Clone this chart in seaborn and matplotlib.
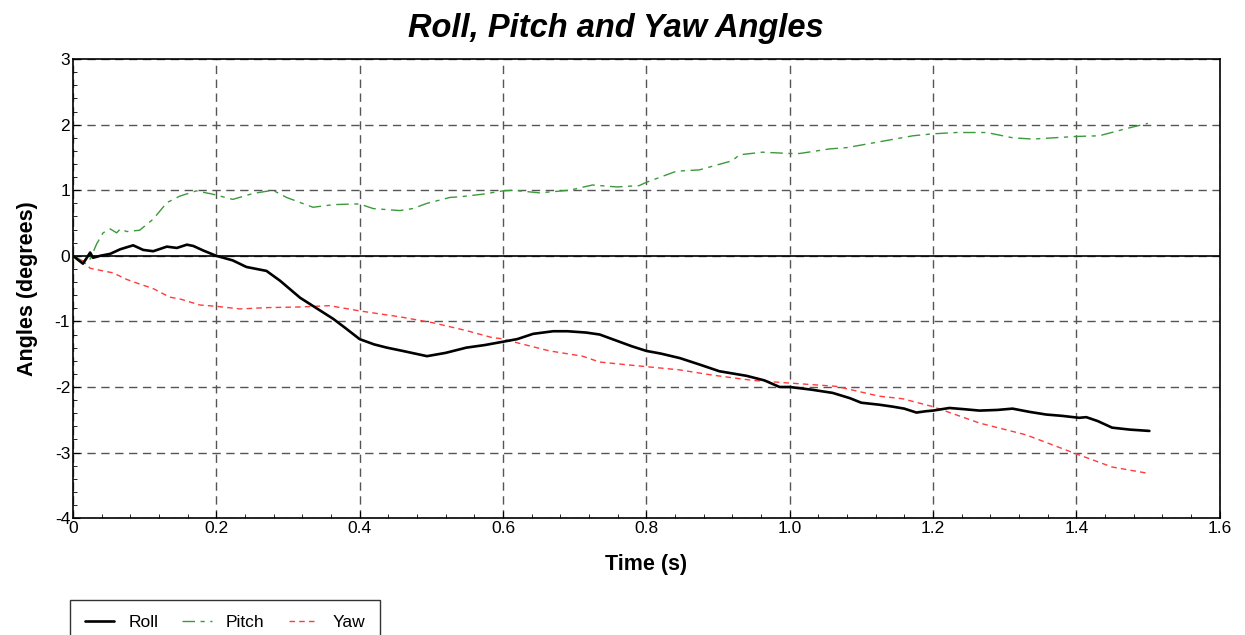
import matplotlib
matplotlib.use("Agg")
import matplotlib.pyplot as plt
from matplotlib.ticker import MultipleLocator
import seaborn as sns
import pandas as pd

# Roll angle (degrees) over time (s)
roll_t = [0, 0.014, 0.024, 0.028, 0.038, 0.052, 0.066, 0.084, 0.098, 0.112, 0.131,
          0.145, 0.159, 0.168, 0.182, 0.2, 0.223, 0.242, 0.27, 0.289, 0.317, 0.34,
          0.363, 0.38, 0.4, 0.42, 0.438, 0.46, 0.494, 0.52, 0.549, 0.575, 0.6, 0.62,
          0.642, 0.67, 0.69, 0.716, 0.735, 0.76, 0.78, 0.8, 0.82, 0.847, 0.875,
          0.902, 0.94, 0.965, 0.986, 1.0, 1.03, 1.06, 1.084, 1.1, 1.125, 1.144,
          1.16, 1.177, 1.19, 1.2, 1.223, 1.245, 1.265, 1.29, 1.311, 1.335, 1.358,
          1.38, 1.404, 1.414, 1.43, 1.45, 1.475, 1.502]
roll = [0, -0.12, 0.05, -0.03, 0.0, 0.03, 0.1, 0.16, 0.09, 0.07, 0.14,
        0.12, 0.17, 0.15, 0.08, 0.0, -0.07, -0.17, -0.23, -0.38, -0.64, -0.8,
        -0.96, -1.1, -1.27, -1.35, -1.4, -1.45, -1.53, -1.48, -1.4, -1.36, -1.31, -1.27,
        -1.19, -1.15, -1.15, -1.17, -1.2, -1.3, -1.38, -1.45, -1.49, -1.56, -1.66,
        -1.76, -1.83, -1.9, -2.0, -2.0, -2.04, -2.09, -2.17, -2.24, -2.27, -2.3,
        -2.33, -2.39, -2.37, -2.36, -2.32, -2.34, -2.36, -2.35, -2.33, -2.38, -2.42,
        -2.44, -2.47, -2.46, -2.52, -2.62, -2.65, -2.67]

# Pitch angle (degrees) over time (s)
pitch_t = [0, 0.014, 0.024, 0.033, 0.042, 0.052, 0.061, 0.066, 0.075, 0.093, 0.112,
           0.131, 0.149, 0.172, 0.195, 0.223, 0.251, 0.279, 0.298, 0.335, 0.363,
           0.391, 0.4, 0.419, 0.456, 0.474, 0.494, 0.526, 0.54, 0.572, 0.6, 0.614,
           0.651, 0.693, 0.725, 0.759, 0.79, 0.8, 0.842, 0.874, 0.92, 0.93, 0.962,
           1.0, 1.014, 1.056, 1.08, 1.126, 1.172, 1.2, 1.233, 1.275, 1.311, 1.339,
           1.4, 1.432, 1.47, 1.5]
pitch = [0, -0.08, -0.05, 0.18, 0.35, 0.41, 0.35, 0.41, 0.37, 0.39, 0.56,
         0.81, 0.91, 0.99, 0.94, 0.86, 0.95, 1.0, 0.89, 0.74, 0.78,
         0.79, 0.79, 0.72, 0.69, 0.72, 0.8, 0.89, 0.9, 0.94, 0.99, 1.0,
         0.96, 1.0, 1.08, 1.05, 1.07, 1.12, 1.29, 1.31, 1.45, 1.54, 1.58,
         1.56, 1.56, 1.63, 1.65, 1.74, 1.83, 1.86, 1.88, 1.88, 1.8, 1.78,
         1.82, 1.83, 1.94, 2.02]

# Yaw angle (degrees) over time (s)
yaw_t = [0, 0.014, 0.024, 0.042, 0.056, 0.075, 0.093, 0.112, 0.135, 0.15, 0.177,
         0.2, 0.233, 0.27, 0.317, 0.358, 0.4, 0.456, 0.502, 0.549, 0.586, 0.596,
         0.665, 0.711, 0.735, 0.8, 0.847, 0.893, 0.949, 1.0, 1.065, 1.125, 1.158,
         1.2, 1.265, 1.33, 1.4, 1.45, 1.502]
yaw = [0, -0.08, -0.19, -0.23, -0.26, -0.36, -0.43, -0.5, -0.63, -0.66, -0.75,
       -0.77, -0.81, -0.79, -0.78, -0.76, -0.84, -0.93, -1.02, -1.14, -1.25, -1.26,
       -1.45, -1.53, -1.62, -1.69, -1.74, -1.82, -1.9, -1.94, -1.99, -2.14, -2.18,
       -2.3, -2.55, -2.73, -3.02, -3.22, -3.32]

sns.set_style("white")
plt.rcParams["font.family"] = ["Liberation Sans", "DejaVu Sans"]
plt.rcParams["axes.unicode_minus"] = False
plt.rcParams["text.color"] = "black"
plt.rcParams["axes.labelcolor"] = "black"
plt.rcParams["xtick.color"] = "black"
plt.rcParams["ytick.color"] = "black"

fig = plt.figure(figsize=(12.45, 6.35), dpi=100)
ax = fig.add_axes([0.0586, 0.184, 0.921, 0.723])

roll_df = pd.DataFrame({"t": roll_t, "v": roll})
pitch_df = pd.DataFrame({"t": pitch_t, "v": pitch})
yaw_df = pd.DataFrame({"t": yaw_t, "v": yaw})

ax.axhline(0, color="black", lw=1.2, zorder=1)

sns.lineplot(data=roll_df, x="t", y="v", ax=ax, color="black", lw=1.9,
             sort=False, estimator=None, label="Roll", zorder=4)
sns.lineplot(data=pitch_df, x="t", y="v", ax=ax, color="#3a9a3a", lw=1.0,
             sort=False, estimator=None, label="Pitch", zorder=3,
             dashes=False, linestyle=(0, (9, 4, 3, 4)))
sns.lineplot(data=yaw_df, x="t", y="v", ax=ax, color="#ff3b3b", lw=1.0,
             sort=False, estimator=None, label="Yaw", zorder=3,
             dashes=False, linestyle=(0, (4, 3)))

ax.set_xlim(0, 1.6)
ax.set_ylim(-4, 3)
ax.xaxis.set_major_locator(MultipleLocator(0.2))
ax.xaxis.set_minor_locator(MultipleLocator(0.04))
ax.yaxis.set_major_locator(MultipleLocator(1))
ax.yaxis.set_minor_locator(MultipleLocator(0.2))
ax.set_xticks(ax.get_xticks())
ax.set_xticklabels(["0" if abs(v) < 1e-9 else f"{v:.1f}" for v in ax.get_xticks()])
ax.set_xlim(0, 1.6)
ax.tick_params(which="both", direction="in", bottom=True, left=True,
               top=False, right=False, labelsize=12.5, pad=2, color="black")
ax.tick_params(which="major", length=5)
ax.tick_params(which="minor", length=3)

ax.grid(True, which="major", color="#555555", linestyle=(0, (6, 4)), lw=1.0)
ax.set_axisbelow(True)
for s in ax.spines.values():
    s.set_visible(True)
    s.set_color("black")
    s.set_linewidth(1.2)

fig.suptitle("Roll, Pitch and Yaw Angles", x=616 / 1245, y=1 - 13 / 635,
             va="top", fontsize=23.5, fontweight="bold", fontstyle="italic")
ax.set_xlabel("Time (s)", fontsize=15.5, fontweight="bold", labelpad=13)
ax.set_ylabel("Angles (degrees)", fontsize=15.5, fontweight="bold", labelpad=12)

leg = ax.legend(loc="upper left", bbox_to_anchor=(70 / 1245, 1 - 600 / 635),
                bbox_transform=fig.transFigure, ncol=3, frameon=True,
                fancybox=False, edgecolor="black", fontsize=12.5,
                handlelength=1.7, handletextpad=0.8, columnspacing=1.4,
                borderpad=0.85, borderaxespad=0)
leg.get_frame().set_linewidth(1.0)

fig.savefig("out.png", dpi=100)
